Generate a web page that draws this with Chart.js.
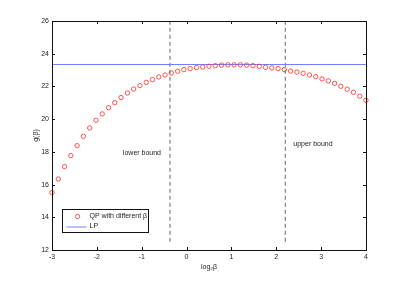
<!DOCTYPE html>
<html>
<head>
<meta charset="utf-8">
<script src="https://cdn.jsdelivr.net/npm/chart.js@4"></script>
<style>
  html, body { margin: 0; padding: 0; background: #fff; }
  #wrap { width: 404px; height: 282px; }
</style>
</head>
<body>
<div id="wrap"><canvas id="gChart" width="404" height="282"></canvas></div>
<script>
// log2(beta) sample points
const logBeta = [-3.00, -2.86, -2.72, -2.58, -2.44, -2.30, -2.16, -2.02, -1.88, -1.74,
  -1.60, -1.46, -1.32, -1.18, -1.04, -0.90, -0.76, -0.62, -0.48, -0.34,
  -0.20, -0.06, 0.08, 0.22, 0.36, 0.50, 0.64, 0.78, 0.92, 1.06,
  1.20, 1.34, 1.48, 1.62, 1.76, 1.90, 2.04, 2.18, 2.32, 2.46,
  2.60, 2.74, 2.88, 3.02, 3.16, 3.30, 3.44, 3.58, 3.72, 3.86, 4.00];
// g(beta) for QP
const qpValues = [15.51, 16.34, 17.10, 17.77, 18.38, 18.95, 19.46, 19.93, 20.32, 20.70,
  21.01, 21.32, 21.60, 21.84, 22.05, 22.25, 22.42, 22.58, 22.70, 22.82,
  22.93, 23.03, 23.09, 23.15, 23.19, 23.23, 23.27, 23.30, 23.32, 23.32,
  23.32, 23.30, 23.27, 23.23, 23.17, 23.13, 23.09, 23.03, 22.94, 22.88,
  22.80, 22.70, 22.60, 22.46, 22.34, 22.19, 22.01, 21.83, 21.64, 21.40, 21.15];
const lpValue = 23.34;
const xRange = [-3, 4];
const yRange = [12, 26];
const boundX = [-0.37, 2.2];          // lower, upper
const boundSpan = [12.5, 26];
const boundLabels = ['lower bound', 'upper bound'];
const boundLabelPos = [[-1.42, 17.93], [2.38, 18.5]];
const legendLabels = ['QP with different \u03b2', 'LP'];

const FONT = '"Liberation Sans", Arial, sans-serif';
const TXT = '#222';
const RED = '#ff2a2a';
const BLUE = '#7080ff';

// axes box + inward ticks, bound text, legend
const matlabLook = {
  id: 'matlabLook',
  afterDatasetsDraw(chart) {
    const { ctx, chartArea: a, scales: { x, y } } = chart;
    ctx.save();
    ctx.strokeStyle = '#111';
    ctx.lineWidth = 1;
    ctx.strokeRect(a.left + 0.5, a.top + 0.5, a.right - a.left, a.bottom - a.top);
    const t = 3;
    ctx.beginPath();
    x.ticks.forEach(tk => {
      const px = Math.round(x.getPixelForValue(tk.value)) + 0.5;
      ctx.moveTo(px, a.bottom); ctx.lineTo(px, a.bottom - t);
      ctx.moveTo(px, a.top); ctx.lineTo(px, a.top + t);
    });
    y.ticks.forEach(tk => {
      const py = Math.round(y.getPixelForValue(tk.value)) + 0.5;
      ctx.moveTo(a.left, py); ctx.lineTo(a.left + t, py);
      ctx.moveTo(a.right, py); ctx.lineTo(a.right - t, py);
    });
    ctx.stroke();

    ctx.fillStyle = TXT;
    ctx.font = '7px ' + FONT;
    ctx.textBaseline = 'middle';
    ctx.textAlign = 'left';
    boundLabels.forEach((s, i) => {
      ctx.fillText(s, x.getPixelForValue(boundLabelPos[i][0]), y.getPixelForValue(boundLabelPos[i][1]));
    });

    // legend
    const lx = a.left + 10.5, ly = 209.5, lw = 86, lh = 23;
    ctx.fillStyle = '#fff';
    ctx.fillRect(lx, ly, lw, lh);
    ctx.strokeStyle = '#111';
    ctx.strokeRect(lx, ly, lw, lh);
    ctx.strokeStyle = RED;
    ctx.lineWidth = 0.8;
    ctx.beginPath();
    ctx.arc(lx + 15, ly + 7, 2.2, 0, Math.PI * 2);
    ctx.stroke();
    ctx.strokeStyle = BLUE;
    ctx.lineWidth = 1;
    ctx.beginPath();
    ctx.moveTo(lx + 4, ly + 17.5); ctx.lineTo(lx + 24, ly + 17.5);
    ctx.stroke();
    ctx.fillStyle = TXT;
    ctx.fillText(legendLabels[0], lx + 27, ly + 7);
    ctx.fillText(legendLabels[1], lx + 27, ly + 17);
    ctx.restore();
  }
};

const boundSets = boundX.map(bx => ({
  data: [{ x: bx, y: boundSpan[0] }, { x: bx, y: boundSpan[1] }],
  showLine: true,
  borderColor: '#555',
  borderWidth: 0.9,
  borderDash: [4, 3],
  pointRadius: 0,
}));

new Chart(document.getElementById('gChart'), {
  type: 'scatter',
  data: {
    datasets: [
      {
        label: legendLabels[0],
        data: logBeta.map((b, i) => ({ x: b, y: qpValues[i] })),
        pointStyle: 'circle',
        pointRadius: 2.2,
        pointBorderWidth: 0.8,
        borderColor: RED,
        backgroundColor: 'rgba(0,0,0,0)',
        showLine: false,
        clip: false,
      },
      {
        label: legendLabels[1],
        data: [{ x: xRange[0], y: lpValue }, { x: xRange[1], y: lpValue }],
        showLine: true,
        borderColor: BLUE,
        borderWidth: 1,
        pointRadius: 0,
      },
      ...boundSets,
    ],
  },
  options: {
    responsive: false,
    animation: false,
    events: [],
    layout: { padding: { left: 32, right: 38, top: 21, bottom: 11 } },
    plugins: { legend: { display: false }, tooltip: { enabled: false } },
    scales: {
      x: {
        type: 'linear',
        min: xRange[0], max: xRange[1],
        grid: { display: false, drawTicks: false },
        border: { display: false },
        ticks: { stepSize: 1, autoSkip: false, maxRotation: 0, padding: 3, color: TXT, font: { family: FONT, size: 7 } },
        title: { display: true, text: 'log\u2082\u03b2', color: TXT, font: { family: FONT, size: 7 }, padding: 0 },
        afterFit(s) { s.height = 21; },
      },
      y: {
        type: 'linear',
        min: yRange[0], max: yRange[1],
        grid: { display: false, drawTicks: false },
        border: { display: false },
        ticks: { stepSize: 2, autoSkip: false, padding: 3, color: TXT, font: { family: FONT, size: 7 } },
        title: { display: true, text: 'g(\u03b2)', color: TXT, font: { family: FONT, size: 7 }, padding: 0 },
        afterFit(s) { s.width = 20; },
      },
    },
  },
  plugins: [matlabLook],
});
</script>
</body>
</html>
